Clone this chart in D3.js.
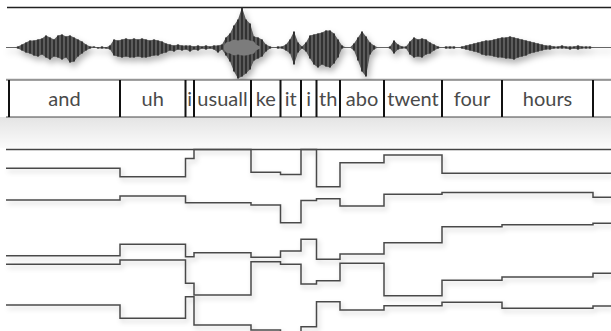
<!DOCTYPE html>
<html>
<head>
<meta charset="utf-8">
<script src="https://cdn.jsdelivr.net/npm/d3@7"></script>
<style>
  body { margin: 0; background: #fff; }
  svg { display: block; }
</style>
</head>
<body>
<svg id="chart" width="611" height="331"></svg>
<script>
// word segments (start time in seconds) and their labels as shown
const wordStart = [0.015, 0.57, 0.8975, 0.94, 1.225, 1.3725, 1.475, 1.5525, 1.67, 1.89, 2.18, 2.48, 2.935];
const wordLabel = ["and", "uh", "i", "usuall", "ke", "it", "i", "th", "abo", "twent", "four", "hours", ""];
const wordEndTime = 3.2;

// step tracks, one value per word segment
const trackA = [18.8, 27.2, 9, 0, 22.8, 25, 0, 37.2, 13.2, 5.5, 23.8, 23.8, 23.8];
const trackB = [50.5, 46.5, 53.2, 53.2, 55.5, 73.2, 51, 49.2, 56.5, 44.8, 43, 43, 47.8];
const trackC = [106.2, 94.8, 107.2, 103.2, 107.8, 101.5, 89.8, 109.8, 104.5, 93.2, 77.2, 75.2, 73.8];
const trackD = [114.8, 110.5, 133.8, 145.5, 112.2, 114.8, 134.5, 131.2, 113.8, 146.2, 130.8, 127.5, 123.8];
const trackE = [155.5, 168.8, 147.2, 175.5, 180.5, 186, 177.2, 152.2, 160.5, 156.2, 152.8, 158.8, 156.5];

// waveform peaks, one pair every 20 ms
const waveTop = [0,0,0,1,3,5,7,7,8,9,12,10,8,12,13,11,12,10,8,6,3,1,1,0,1,0,
  2,8,7,8,9,8,9,8,9,8,7,8,7,6,4,3,2,3,2,2,2,1,2,1,2,1,2,2,3,10,14,22,28,40,28,24,11,10,8,3,1,0,1,1,
  3,8,16,5,1,5,12,13,14,15,17,17,14,8,2,0,0,4,10,16,11,5,2,0,0,0,1,7,3,1,1,6,10,8,9,8,5,3,1,0,
  1,1,1,0,1,2,3,4,5,6,7,7,8,9,10,10,11,10,9,8,7,6,5,4,3,2,2,1,1,2,1,1,1,2,1,1,1,0,0,0,0,0];
const waveBottom = [0,0,0,1,3,5,6,8,9,7,10,12,9,10,12,10,15,14,9,6,3,1,0,1,1,1,
  2,8,9,10,9,10,10,9,10,10,9,8,8,6,5,3,4,2,3,2,4,2,3,1,2,1,2,5,2,8,14,24,31,29,26,22,13,11,9,4,1,0,1,1,
  3,6,17,5,1,4,11,17,20,17,19,20,16,10,1,0,0,3,13,24,29,7,2,0,0,0,1,6,2,1,1,7,10,9,10,7,6,3,1,0,
  1,1,1,0,1,2,3,4,5,7,8,8,9,10,10,11,11,12,10,9,8,6,5,4,3,2,2,1,1,1,1,2,1,2,1,1,1,0,0,0,0,0];
const waveStep = 0.02;

// rms envelope of the loud burst
const rmsTime = [1.09, 1.10, 1.12, 1.14, 1.16, 1.18, 1.20, 1.22, 1.24, 1.25, 1.27];
const rmsValue = [2, 5, 6, 8, 7, 8, 8, 7, 6, 3, 1];

const width = 611, height = 331;
const svg = d3.select("#chart");

const x = d3.scaleLinear().domain([0, 3.025]).range([6, 611]);
const yWave = d3.scaleLinear().domain([-40, 40]).range([87.5, 7.5]);
const yTrack = d3.scaleLinear().domain([0, 180]).range([149.5, 329.5]);

const defs = svg.append("defs");
function shadow(id, dx, dy, sd, op) {
  const f = defs.append("filter").attr("id", id)
    .attr("filterUnits", "userSpaceOnUse")
    .attr("x", 0).attr("y", 0).attr("width", width).attr("height", height);
  f.append("feDropShadow").attr("dx", dx).attr("dy", dy)
    .attr("stdDeviation", sd).attr("flood-color", "#000").attr("flood-opacity", op);
}
shadow("waveShadow", 2, 4, 3, 0.3);
shadow("lineShadow", 2, 3, 2.5, 0.22);

const grad = defs.append("linearGradient").attr("id", "band")
  .attr("x1", 0).attr("y1", 0).attr("x2", 0).attr("y2", 1);
grad.append("stop").attr("offset", "0%").attr("stop-color", "#e4e4e4");
grad.append("stop").attr("offset", "100%").attr("stop-color", "#fbfbfb");

// ---- waveform panel
svg.append("line")
  .attr("x1", 7).attr("x2", width).attr("y1", 7.5).attr("y2", 7.5)
  .attr("stroke", "#222").attr("stroke-width", 1.6);

svg.append("line")
  .attr("x1", 6).attr("x2", width).attr("y1", 79).attr("y2", 79)
  .attr("stroke", "#ccc").attr("stroke-width", 1);

const wave = waveTop.map((d, i) => ({ t: i * waveStep, top: d, bot: waveBottom[i] }));
const gWave = svg.append("g").attr("filter", "url(#waveShadow)");

gWave.append("line")
  .attr("x1", 6).attr("x2", width).attr("y1", yWave(0)).attr("y2", yWave(0))
  .attr("stroke", "#666").attr("stroke-width", 1);

gWave.append("path")
  .datum(wave)
  .attr("fill", "#5c5c5c")
  .attr("d", d3.area()
    .x(d => x(d.t))
    .y0(d => yWave(-d.bot))
    .y1(d => yWave(d.top)));

gWave.selectAll(".peak")
  .data(wave.filter(d => d.top + d.bot > 0))
  .enter().append("line")
  .attr("class", "peak")
  .attr("x1", d => x(d.t)).attr("x2", d => x(d.t))
  .attr("y1", d => yWave(d.top)).attr("y2", d => yWave(-d.bot))
  .attr("stroke", "#2c2c2c").attr("stroke-width", 1.8);

gWave.append("path")
  .datum(rmsTime.map((t, i) => ({ t: t, v: rmsValue[i] })))
  .attr("fill", "#7c7c7c")
  .attr("d", d3.area()
    .x(d => x(d.t))
    .y0(d => yWave(-d.v))
    .y1(d => yWave(d.v)));

// ---- word row
svg.append("rect")
  .attr("x", 0).attr("y", 117).attr("width", width).attr("height", 31)
  .attr("fill", "url(#band)");

const words = wordStart.map((s, i) => ({
  s: s, e: i < wordStart.length - 1 ? wordStart[i + 1] : wordEndTime, label: wordLabel[i], i: i
}));

const gWords = svg.append("g");
gWords.append("rect")
  .attr("x", 6).attr("y", 80).attr("width", width - 6).attr("height", 37)
  .attr("fill", "#fff");
[80, 117].forEach(yy => {
  gWords.append("line")
    .attr("x1", 6).attr("x2", width).attr("y1", yy).attr("y2", yy)
    .attr("stroke", "#444").attr("stroke-width", 1);
});

words.forEach(w => {
  defs.append("clipPath").attr("id", "clip" + w.i)
    .append("rect")
    .attr("x", x(w.s) + 1).attr("y", 80)
    .attr("width", Math.max(0, x(w.e) - x(w.s) - 2)).attr("height", 37);
});

gWords.selectAll(".lbl")
  .data(words)
  .enter().append("text")
  .attr("class", "lbl")
  .attr("clip-path", d => "url(#clip" + d.i + ")")
  .attr("x", d => (x(d.s) + x(d.e)) / 2)
  .attr("y", 106)
  .attr("text-anchor", "middle")
  .attr("font-family", "Lato, 'Open Sans', sans-serif")
  .attr("font-size", 20)
  .attr("fill", "#4a4a4a")
  .text(d => d.label);

gWords.selectAll(".sep")
  .data(words)
  .enter().append("line")
  .attr("class", "sep")
  .attr("x1", d => x(d.s)).attr("x2", d => x(d.s))
  .attr("y1", 80).attr("y2", 117)
  .attr("stroke", "#111").attr("stroke-width", 2);

// ---- step tracks
svg.append("line")
  .attr("x1", 6).attr("x2", width).attr("y1", yTrack(0)).attr("y2", yTrack(0))
  .attr("stroke", "#444").attr("stroke-width", 1.5);

const tracks = [trackA, trackB, trackC, trackD, trackE];
const stepLine = d3.line().curve(d3.curveStepAfter)
  .x(d => x(d.t)).y(d => yTrack(d.v));

const gTracks = svg.append("g").attr("filter", "url(#lineShadow)");
gTracks.selectAll(".track")
  .data(tracks.map(vals => {
    const pts = vals.map((v, i) => ({ t: i === 0 ? x.domain()[0] : wordStart[i], v: v }));
    pts.push({ t: x.domain()[1], v: vals[vals.length - 1] });
    return pts;
  }))
  .enter().append("path")
  .attr("class", "track")
  .attr("fill", "none")
  .attr("stroke", "#4a4a4a")
  .attr("stroke-width", 1.5)
  .attr("d", stepLine);
</script>
</body>
</html>
